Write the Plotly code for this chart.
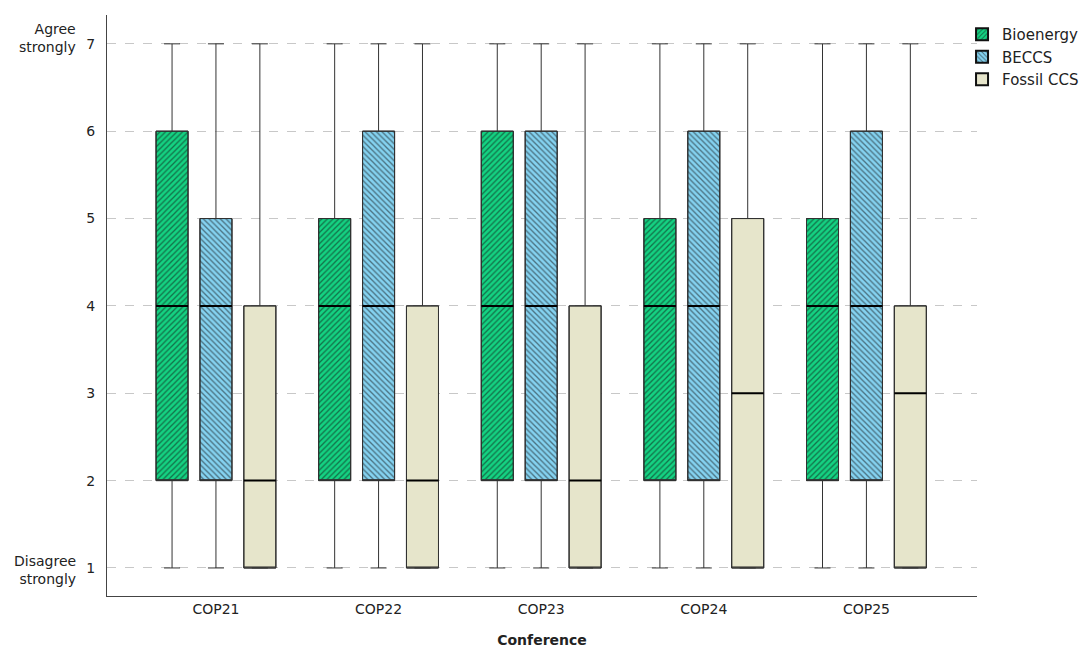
import plotly.graph_objects as go

conferences = ["COP21", "COP22", "COP23", "COP24", "COP25"]
series = ["Bioenergy", "BECCS", "Fossil CCS"]

# quartile summaries per series, per conference
bio_low = [1, 1, 1, 1, 1]
bio_q1 = [2, 2, 2, 2, 2]
bio_med = [4, 4, 4, 4, 4]
bio_q3 = [6, 5, 6, 5, 5]
bio_high = [7, 7, 7, 7, 7]

beccs_low = [1, 1, 1, 1, 1]
beccs_q1 = [2, 2, 2, 2, 2]
beccs_med = [4, 4, 4, 4, 4]
beccs_q3 = [5, 6, 6, 6, 6]
beccs_high = [7, 7, 7, 7, 7]

fossil_low = [1, 1, 1, 1, 1]
fossil_q1 = [1, 1, 1, 1, 1]
fossil_med = [2, 2, 2, 3, 3]
fossil_q3 = [4, 4, 4, 5, 4]
fossil_high = [7, 7, 7, 7, 7]

y_ticks = [1, 2, 3, 4, 5, 6, 7]

stats = [
    (bio_low, bio_q1, bio_med, bio_q3, bio_high),
    (beccs_low, beccs_q1, beccs_med, beccs_q3, beccs_high),
    (fossil_low, fossil_q1, fossil_med, fossil_q3, fossil_high),
]
colors = ["#14d282", "#84d2f0", "#e6e5cb"]
patterns = ["/", "\\", ""]
offsets = [-0.27, 0.0, 0.27]
box_w = 0.197
FONT = "DejaVu Sans"

fig = go.Figure()
pos = list(range(len(conferences)))

# boxes (q1..q3) as patterned bars
for name, (lo, q1, med, q3, hi), col, pat, off in zip(series, stats, colors, patterns, offsets):
    xs = [p + off for p in pos]
    fig.add_trace(go.Bar(
        x=xs, y=[b - a for a, b in zip(q1, q3)], base=q1, width=box_w,
        name=name,
        marker=dict(color=col, line=dict(color="#111111", width=1),
                    pattern=dict(shape=pat, fgcolor="#111111", bgcolor=col,
                                 size=4, solidity=0.33) if pat else None),
        hoverinfo="skip",
    ))

# whiskers
for name, (lo, q1, med, q3, hi), off in zip(series, stats, offsets):
    xs = [p + off for p in pos]
    fig.add_trace(go.Box(
        x=xs, q1=q1, median=q1, q3=q3, lowerfence=lo, upperfence=hi,
        width=box_w, whiskerwidth=0.5, fillcolor="rgba(0,0,0,0)",
        line=dict(color="#333333", width=1), showlegend=False, hoverinfo="skip",
    ))

# medians
for name, (lo, q1, med, q3, hi), off in zip(series, stats, offsets):
    xs = [p + off for p in pos]
    fig.add_trace(go.Box(
        x=xs, q1=med, median=med, q3=med, lowerfence=med, upperfence=med,
        width=box_w, whiskerwidth=0, fillcolor="rgba(0,0,0,0)",
        line=dict(color="#000000", width=2), showlegend=False, hoverinfo="skip",
    ))

fig.add_annotation(text="Agree<br>strongly", xref="paper", yref="y", x=-0.033, y=7,
                   xanchor="right", yanchor="middle", yshift=6, showarrow=False,
                   font=dict(family=FONT, size=14, color="#222"), align="right")
fig.add_annotation(text="Disagree<br>strongly", xref="paper", yref="y", x=-0.033, y=1,
                   xanchor="right", yanchor="middle", yshift=-2, showarrow=False,
                   font=dict(family=FONT, size=14, color="#222"), align="right")

fig.update_layout(
    width=1084, height=648,
    margin=dict(l=107, r=107, t=15, b=52, autoexpand=False),
    paper_bgcolor="white", plot_bgcolor="white",
    barmode="overlay",
    font=dict(family=FONT, size=14, color="#222"),
    legend=dict(x=0.9828, y=0.995, xanchor="left", yanchor="top",
                font=dict(family=FONT, size=15, color="#222"),
                tracegroupgap=0, itemsizing="constant", itemwidth=30,
                bgcolor="rgba(0,0,0,0)"),
    xaxis=dict(tickvals=pos, ticktext=conferences, range=[-0.67, 4.68],
               showgrid=False, zeroline=False, showline=True, linecolor="#444",
               linewidth=1, ticks="", title=dict(text="<b>Conference</b>", standoff=20,
                                                  font=dict(family=FONT, size=14))),
    yaxis=dict(tickvals=y_ticks, range=[0.679, 7.33], showgrid=True,
               gridcolor="#c8c8c8", griddash="dash", gridwidth=1, zeroline=False,
               showline=True, linecolor="#444", linewidth=1, ticks="",
               ticklabelstandoff=8),
)

fig.write_html("out.html")
